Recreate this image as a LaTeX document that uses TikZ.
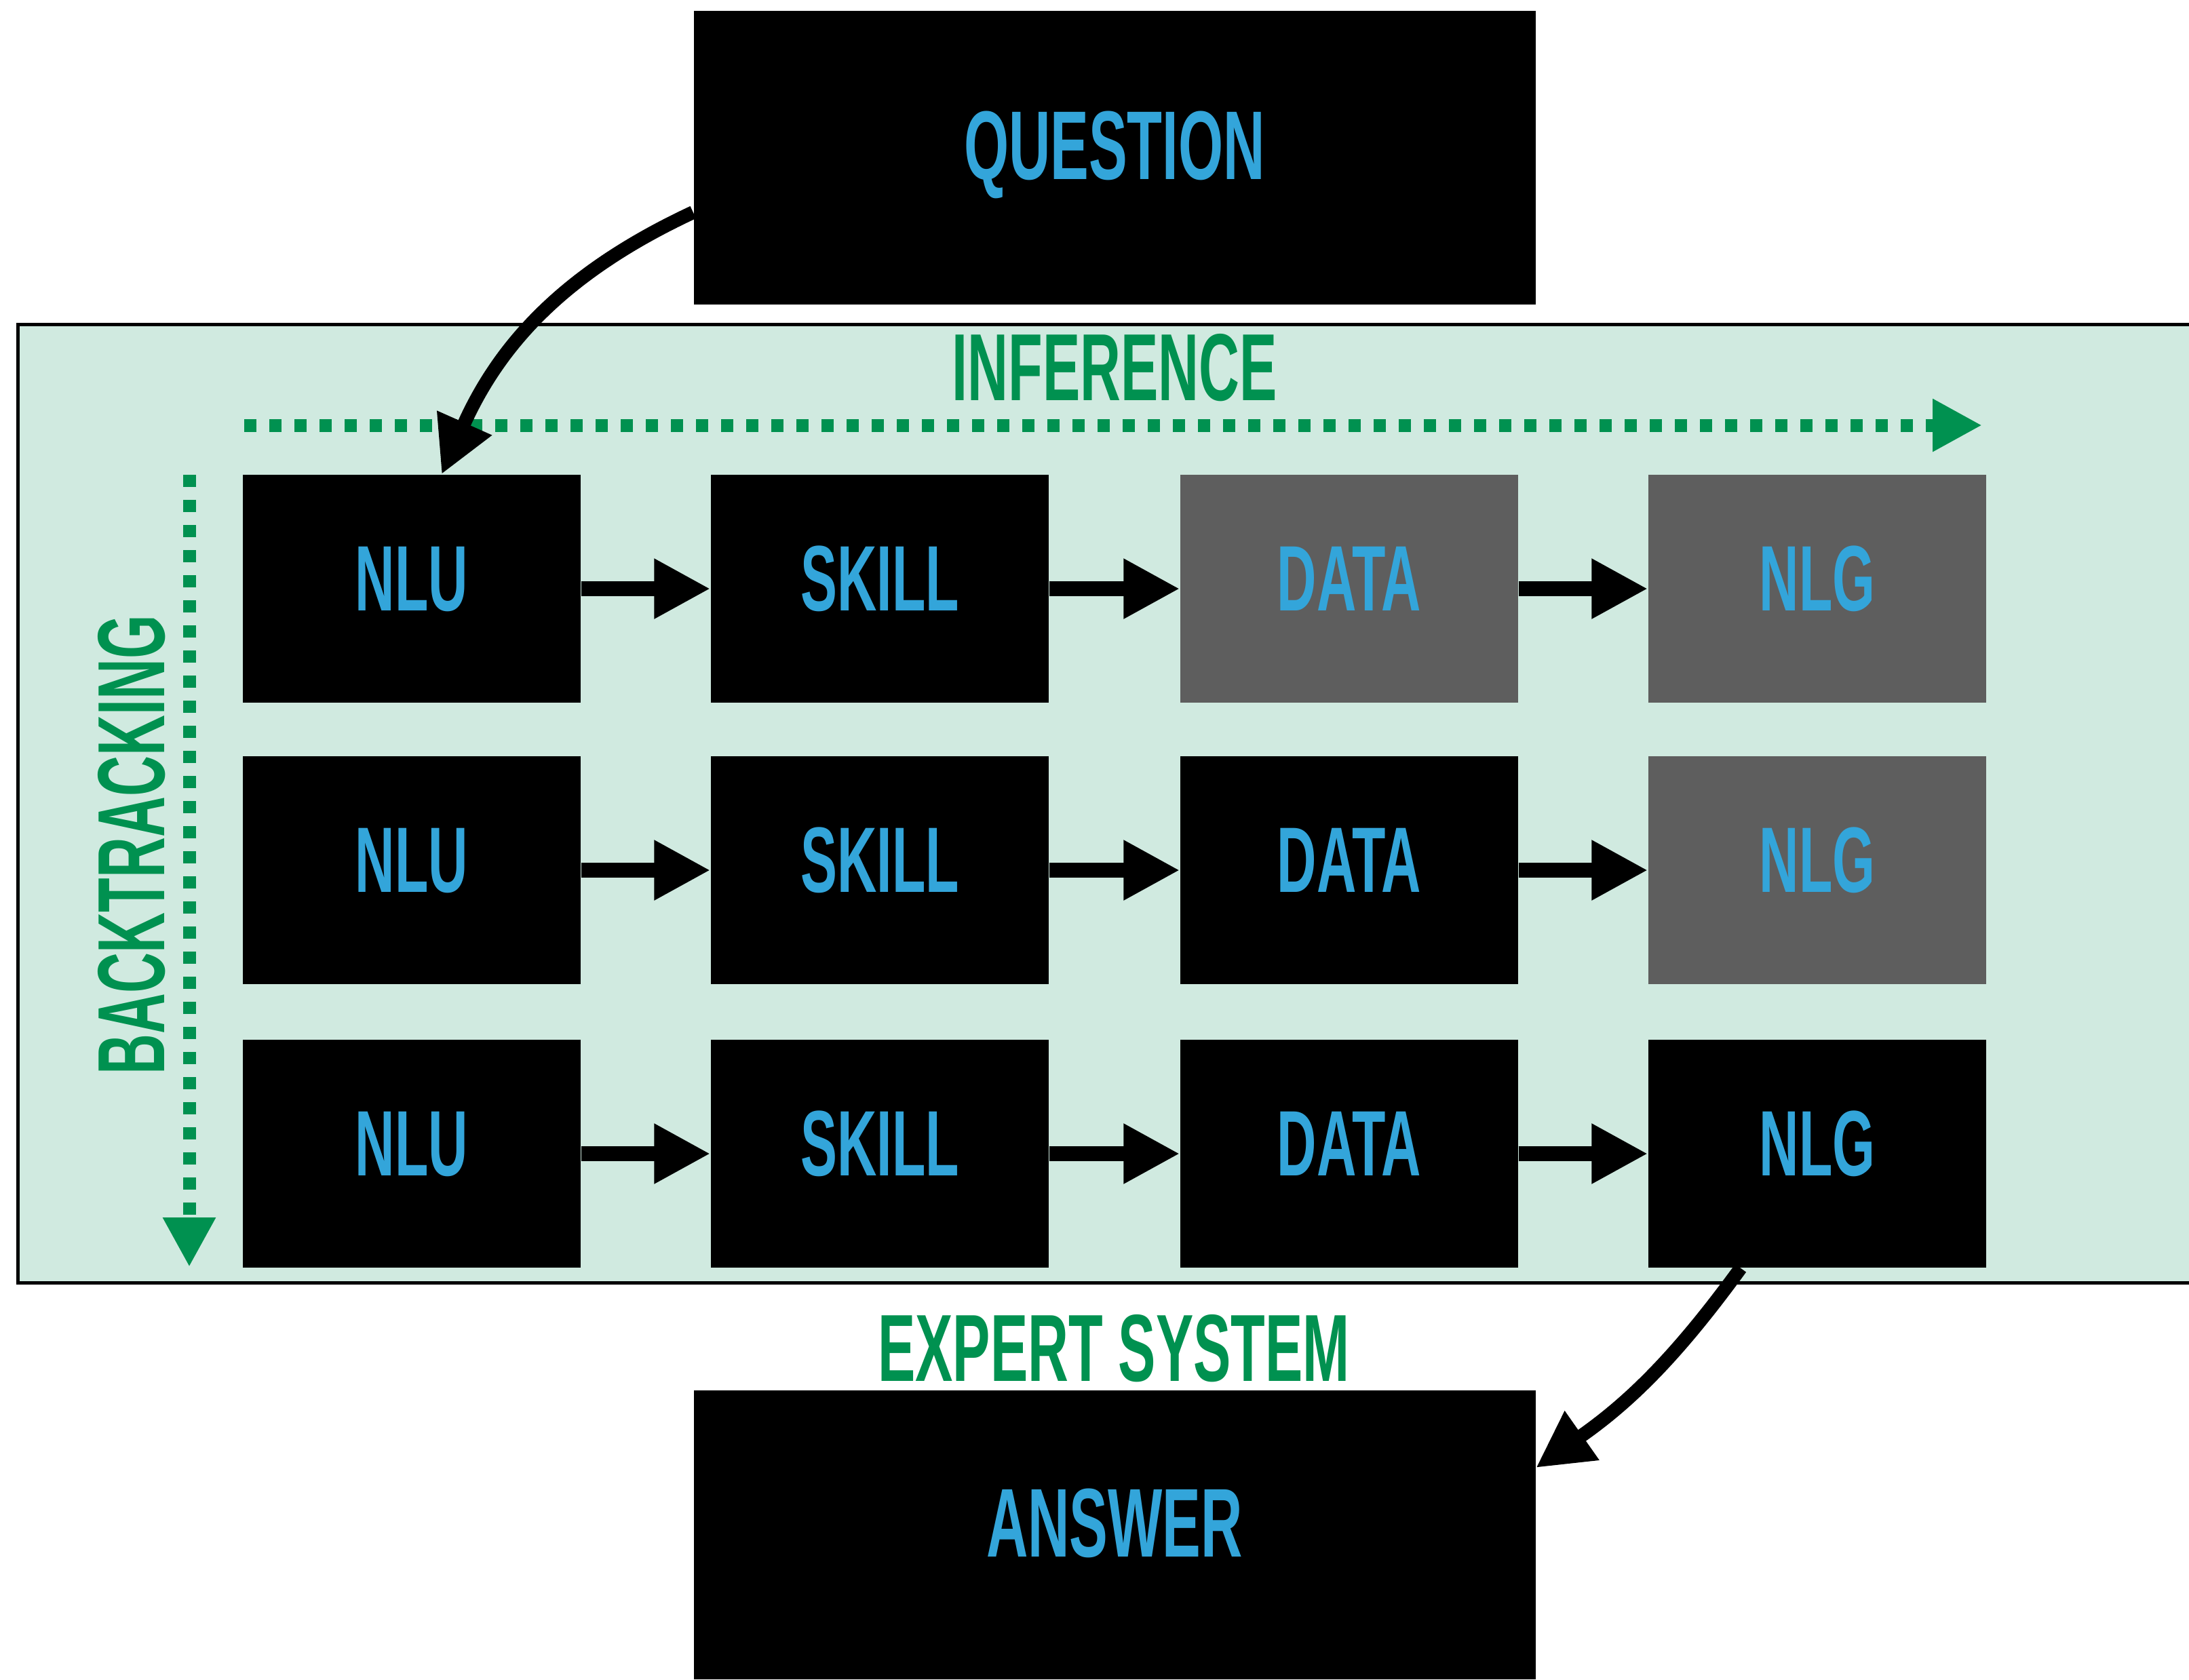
\documentclass[tikz,border=0pt]{standalone}
\usepackage{fontspec}
\newfontfamily\dinfont{Liberation Sans}[FakeStretch=0.59]
\usepackage{tikz}
\usetikzlibrary{positioning,arrows.meta}
\definecolor{qblue}{HTML}{33A5DA}
\definecolor{esgreen}{HTML}{009150}
\definecolor{panelgreen}{HTML}{D0EAE0}
\definecolor{idlegray}{HTML}{5E5E5E}

\begin{document}
\begin{tikzpicture}[
  stage/.style={fill=black,text=qblue,minimum width=4.98cm,minimum height=3.36cm,
                inner sep=0pt,text height=0.97cm,text depth=0.32cm,
                font=\dinfont\bfseries\fontsize{39}{40}\selectfont},
  idle/.style={stage,fill=idlegray},
  endbox/.style={stage,minimum width=12.41cm,minimum height=4.33cm,
                 font=\dinfont\bfseries\fontsize{41}{42}\selectfont},
  tag/.style={text=esgreen,inner sep=0pt,
              font=\dinfont\bfseries\fontsize{40}{41}\selectfont},
  flow/.style={-{Triangle[length=0.83cm,width=0.83cm]},line width=0.22cm},
  hop/.style={-{Triangle[length=0.83cm,width=0.83cm]},line width=0.2cm},
  sweep/.style={-{Triangle[length=0.73cm,width=0.73cm]},esgreen,
                line width=0.19cm,dash pattern=on 0.18cm off 0.19cm}
]
  \useasboundingbox (0,0) rectangle (32.27,-24.76);
  \clip (0,0) rectangle (32.27,-24.76);

  % expert system panel
  \draw[fill=panelgreen,line width=0.05cm] (0.265,-4.78) rectangle (32.6,-18.91);

  \node[endbox] (question) at (16.43,-2.32) {QUESTION};
  \node[endbox,minimum height=4.26cm] (answer) at (16.43,-22.63) {ANSWER};

  % first attempt
  \node[stage] (nluA) at (6.07,-8.68) {NLU};
  \node[stage] (skillA) at (12.97,-8.68) {SKILL};
  \node[idle] (dataA) at (19.89,-8.68) {DATA};
  \node[idle] (nlgA) at (26.79,-8.68) {NLG};
  % second attempt
  \node[stage] (nluB) at (6.07,-12.83) {NLU};
  \node[stage] (skillB) at (12.97,-12.83) {SKILL};
  \node[stage] (dataB) at (19.89,-12.83) {DATA};
  \node[idle] (nlgB) at (26.79,-12.83) {NLG};
  % third attempt
  \node[stage] (nluC) at (6.07,-17.01) {NLU};
  \node[stage] (skillC) at (12.97,-17.01) {SKILL};
  \node[stage] (dataC) at (19.89,-17.01) {DATA};
  \node[stage] (nlgC) at (26.79,-17.01) {NLG};

  \draw[flow] (nluA) -- (skillA);
  \draw[flow] (skillA) -- (dataA);
  \draw[flow] (dataA) -- (nlgA);
  \draw[flow] (nluB) -- (skillB);
  \draw[flow] (skillB) -- (dataB);
  \draw[flow] (dataB) -- (nlgB);
  \draw[flow] (nluC) -- (skillC);
  \draw[flow] (skillC) -- (dataC);
  \draw[flow] (dataC) -- (nlgC);

  \node[tag] (inference) at (16.43,-5.42) {INFERENCE};
  \node[tag,rotate=90] (backtracking) at (1.94,-12.46) {BACKTRACKING};
  \node[tag] (expert) at (16.42,-19.88) {EXPERT SYSTEM};

  \coordinate (infStart) at (3.60,-6.27);
  \coordinate (infEnd) at (29.22,-6.27);
  \draw[sweep] (infStart) -- (infEnd);
  \coordinate (backStart) at (2.79,-7.00);
  \coordinate (backEnd) at (2.79,-18.68);
  \draw[sweep] (backStart) -- (backEnd);

  \draw[hop] ([yshift=-0.81cm]question.west) to[out=205,in=66]
    ([xshift=0.44cm]nluA.north);
  \draw[hop] ([xshift=-1.13cm]nlgC.south) to[out=234,in=35]
    ([yshift=0.99cm]answer.east);
\end{tikzpicture}
\end{document}
